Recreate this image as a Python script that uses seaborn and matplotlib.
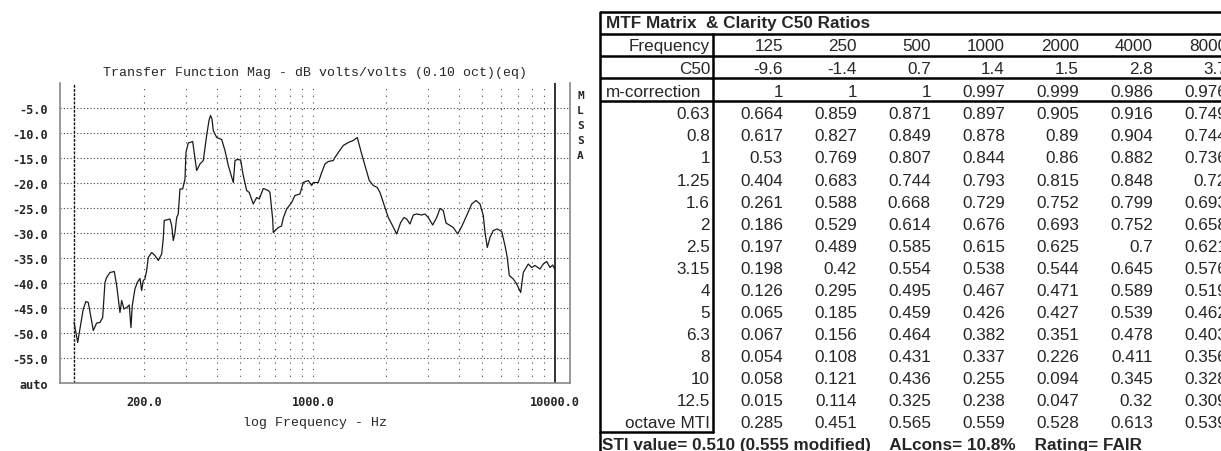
import matplotlib
matplotlib.use("Agg")
import matplotlib.pyplot as plt
import seaborn as sns

# ---- transfer function magnitude (0.10 octave smoothing) ----
freq_hz = [102.9, 104.2, 106.6, 108.9, 112.4, 115.3, 117.9, 120.6, 123.7, 127.7,
           131.8, 135.2, 138.2, 140.4, 144.9, 151.0, 154.5, 159.4, 162.0, 165.6,
           169.9, 174.1, 177.0, 179.2, 183.8, 187.9, 192.8, 195.9, 199.0, 202.2,
           205.5, 208.7, 215.6, 222.4, 229.5, 237.0, 240.6, 242.9, 256.5, 260.7,
           264.7, 269.1, 273.4, 277.6, 282.1, 289.4, 295.9, 298.7, 305.3, 318.4,
           330.7, 341.3, 352.2, 363.7, 371.8, 377.1, 382.6, 387.3, 400.0, 419.5,
           432.9, 446.7, 468.6, 476.2, 486.7, 502.6, 515.2, 532.1, 545.4, 566.5,
           585.2, 599.9, 623.3, 653.5, 664.2, 681.5, 685.5, 719.0, 741.2, 754.0,
           778.5, 816.6, 842.5, 883.7, 911.9, 956.2, 987.7, 1002.9, 1051.7, 1086.4,
           1121.0, 1156.7, 1213.1, 1232.8, 1272.1, 1334.1, 1399.2, 1467.1, 1524.1, 1589.6,
           1655.7, 1708.5, 1774.9, 1843.7, 1891.8, 1983.7, 2047.3, 2114.5, 2217.6, 2303.5,
           2376.8, 2438.8, 2516.5, 2597.2, 2682.4, 2813.2, 2902.8, 2995.2, 3123.5, 3245.0,
           3348.3, 3455.0, 3545.3, 3682.7, 3800.6, 3962.7, 4117.0, 4317.0, 4527.8, 4717.4,
           4899.9, 5055.8, 5138.0, 5251.7, 5388.4, 5559.0, 5775.2, 6022.5, 6214.1, 6351.5,
           6474.0, 6725.1, 6945.5, 7215.7, 7396.1, 7756.6, 8011.0, 8267.6, 8669.6, 8947.5,
           9241.0, 9534.8, 9783.6, 10000.0]
mag_db = [-47.8, -49.2, -51.9, -49.2, -45.2, -43.7, -43.9, -46.5, -49.5, -48.0,
          -47.9, -46.9, -39.9, -38.9, -37.9, -37.7, -40.5, -45.9, -43.5, -45.2,
          -44.9, -44.4, -48.9, -44.5, -41.2, -39.9, -39.1, -41.5, -39.5, -39.2,
          -37.5, -34.9, -33.9, -34.5, -35.5, -34.2, -31.2, -27.5, -27.2, -28.5,
          -31.5, -29.9, -26.9, -26.2, -21.2, -21.2, -19.2, -13.9, -12.0, -11.7,
          -17.5, -16.2, -15.5, -10.5, -7.5, -6.5, -7.2, -9.5, -10.9, -11.3,
          -13.5, -16.5, -19.9, -15.5, -15.3, -15.4, -18.5, -21.5, -21.9, -24.2,
          -22.9, -23.2, -21.1, -21.5, -21.9, -27.2, -29.9, -28.9, -28.6, -27.0,
          -25.2, -23.9, -22.5, -22.2, -19.9, -19.5, -20.5, -19.9, -19.9, -17.9,
          -16.2, -15.7, -15.5, -14.9, -13.9, -12.5, -11.9, -11.5, -10.9, -14.2,
          -17.2, -19.5, -20.5, -20.9, -21.9, -24.9, -26.9, -28.2, -30.2, -27.9,
          -26.9, -27.2, -28.2, -26.4, -26.2, -26.4, -26.2, -26.9, -28.4, -26.9,
          -25.1, -25.5, -28.0, -28.5, -28.9, -30.2, -28.7, -26.5, -24.2, -23.5,
          -24.2, -26.5, -29.9, -32.9, -30.9, -29.5, -29.2, -29.7, -32.5, -34.9,
          -38.5, -39.2, -40.2, -41.9, -37.9, -36.2, -36.9, -36.5, -37.2, -36.2,
          -35.7, -36.9, -36.4, -37.3]
cursor_lo_hz = 103
cursor_hi_hz = 10000
y_ticks_db = [-55, -50, -45, -40, -35, -30, -25, -20, -15, -10, -5]
x_major_hz = [200, 1000, 10000]
x_minor_hz = [300, 400, 500, 600, 700, 800, 900,
              2000, 3000, 4000, 5000, 6000, 7000, 8000, 9000]

# ---- MTF matrix table ----
band_hz = [125, 250, 500, 1000, 2000, 4000, 8000]
c50_db = [-9.6, -1.4, 0.7, 1.4, 1.5, 2.8, 3.7]
m_correction = [1, 1, 1, 0.997, 0.999, 0.986, 0.976]
mod_freq = [0.63, 0.8, 1, 1.25, 1.6, 2, 2.5, 3.15, 4, 5, 6.3, 8, 10, 12.5]
mtf_125 = [0.664, 0.617, 0.53, 0.404, 0.261, 0.186, 0.197, 0.198, 0.126, 0.065, 0.067, 0.054, 0.058, 0.015]
mtf_250 = [0.859, 0.827, 0.769, 0.683, 0.588, 0.529, 0.489, 0.42, 0.295, 0.185, 0.156, 0.108, 0.121, 0.114]
mtf_500 = [0.871, 0.849, 0.807, 0.744, 0.668, 0.614, 0.585, 0.554, 0.495, 0.459, 0.464, 0.431, 0.436, 0.325]
mtf_1000 = [0.897, 0.878, 0.844, 0.793, 0.729, 0.676, 0.615, 0.538, 0.467, 0.426, 0.382, 0.337, 0.255, 0.238]
mtf_2000 = [0.905, 0.89, 0.86, 0.815, 0.752, 0.693, 0.625, 0.544, 0.471, 0.427, 0.351, 0.226, 0.094, 0.047]
mtf_4000 = [0.916, 0.904, 0.882, 0.848, 0.799, 0.752, 0.7, 0.645, 0.589, 0.539, 0.478, 0.411, 0.345, 0.32]
mtf_8000 = [0.749, 0.744, 0.736, 0.72, 0.693, 0.658, 0.621, 0.576, 0.519, 0.462, 0.403, 0.356, 0.328, 0.309]
octave_mti = [0.285, 0.451, 0.565, 0.559, 0.528, 0.613, 0.539]
summary_line = "STI value= 0.510 (0.555 modified)    ALcons= 10.8%    Rating= FAIR"

sns.set_style("white")
plt.rcParams["font.family"] = ["Liberation Sans", "DejaVu Sans"]

W, H = 1221, 452
fig = plt.figure(figsize=(W / 100, H / 100), dpi=100)

# ---------------- left: transfer function plot ----------------
ax_l, ax_r, ax_t, ax_b = 60, 570, 84, 384
ax = fig.add_axes([ax_l / W, 1 - ax_b / H, (ax_r - ax_l) / W, (ax_b - ax_t) / H])
ax.set_xscale("log")
ax.set_xlim(90.1, 11535)
ax.set_ylim(-60, 0)

for y in y_ticks_db:
    ax.axhline(y, color="#444444", lw=0.8, ls=(0, (1, 2)), zorder=1)
for x in x_major_hz[:-1] + x_minor_hz:
    ax.axvline(x, color="#444444", lw=0.8, ls=(0, (1, 5)), zorder=1)

sns.lineplot(x=freq_hz, y=mag_db, ax=ax, color="#1a1a1a", lw=0.9,
             estimator=None, sort=False, zorder=3)
ax.axvline(cursor_lo_hz, color="#111111", lw=1.0, ls=(0, (2, 1)), zorder=2)
ax.axvline(cursor_hi_hz, color="#111111", lw=1.2, zorder=2)

mono = ["DejaVu Sans Mono"]
ax.set_yticks(y_ticks_db + [-60])
ax.set_yticklabels([f"{v:.1f}" for v in y_ticks_db] + ["auto"],
                   fontfamily=mono, fontweight="bold", fontsize=8.6)
ax.set_xticks(x_major_hz)
ax.set_xticklabels([f"{v:.1f}" for v in x_major_hz],
                   fontfamily=mono, fontweight="bold", fontsize=8.6)
ax.set_xticks(x_minor_hz, minor=True)
ax.xaxis.set_minor_formatter(matplotlib.ticker.NullFormatter())
ax.tick_params(axis="y", length=0, pad=8.5)
ax.tick_params(axis="x", which="major", length=5.5, width=1, color="#777777",
               direction="out", pad=3)
ax.tick_params(axis="x", which="minor", length=3, width=1, color="#777777",
               direction="out")
for side in ["left", "bottom", "right"]:
    ax.spines[side].set_color("#888888")
    ax.spines[side].set_linewidth(1.2)
ax.spines["top"].set_visible(False)
ax.set_xlabel("log Frequency - Hz", fontfamily=["Liberation Mono"], fontsize=9.5,
              labelpad=6)
ax.set_title("Transfer Function Mag - dB volts/volts (0.10 oct)(eq)",
             fontfamily=["Liberation Mono"], fontsize=9.5, pad=6)
for i, ch in enumerate("MLSSA"):
    fig.text(577 / W, 1 - (96 + 15 * i) / H, ch, fontfamily=mono,
             fontweight="bold", fontsize=8, ha="left", va="center")

# ---------------- right: MTF matrix table ----------------
tb = fig.add_axes([0, 0, 1, 1])
tb.set_xlim(0, W)
tb.set_ylim(H, 0)
tb.axis("off")

left = 600
sep = 713
col_pitch = 74
first_num_right = 783
fs = 12.3
lw_rule = 1.8
rules_y = [12.7, 35, 56.7, 79.3, 101.7]
box_bottom = 433

for y in rules_y:
    tb.plot([left, W + 5], [y, y], color="black", lw=lw_rule, solid_capstyle="butt")
tb.plot([left, left], [rules_y[0], H + 5], color="black", lw=lw_rule)
tb.plot([sep, sep], [rules_y[1], box_bottom], color="black", lw=lw_rule)
tb.plot([left, sep], [box_bottom, box_bottom], color="black", lw=lw_rule)

tb.text(left + 6, 23.7, "MTF Matrix  & Clarity C50 Ratios", fontsize=fs,
        fontweight="bold", ha="left", va="center")


def num_row(yc, values, label, label_left=False):
    base = yc + 6.1
    if label_left:
        tb.text(left + 6, base, label, fontsize=fs, ha="left", va="baseline")
    else:
        tb.text(sep - 3, base, label, fontsize=fs, ha="right", va="baseline")
    for j, v in enumerate(values):
        tb.text(first_num_right + j * col_pitch, base, f"{v:g}", fontsize=fs,
                ha="right", va="baseline")


num_row(45.0, band_hz, "Frequency")
num_row(68.0, c50_db, "C50")
num_row(90.6, m_correction, "m-correction", label_left=True)
mtf_cols = [mtf_125, mtf_250, mtf_500, mtf_1000, mtf_2000, mtf_4000, mtf_8000]
row0, pitch = 113.3, 22.05
for i, m in enumerate(mod_freq):
    num_row(row0 + i * pitch, [c[i] for c in mtf_cols], f"{m:g}")
num_row(row0 + len(mod_freq) * pitch, octave_mti, "octave MTI")

tb.text(left + 2, 446, summary_line, fontsize=fs, fontweight="bold",
        ha="left", va="center")

fig.savefig("out.png", dpi=100)
